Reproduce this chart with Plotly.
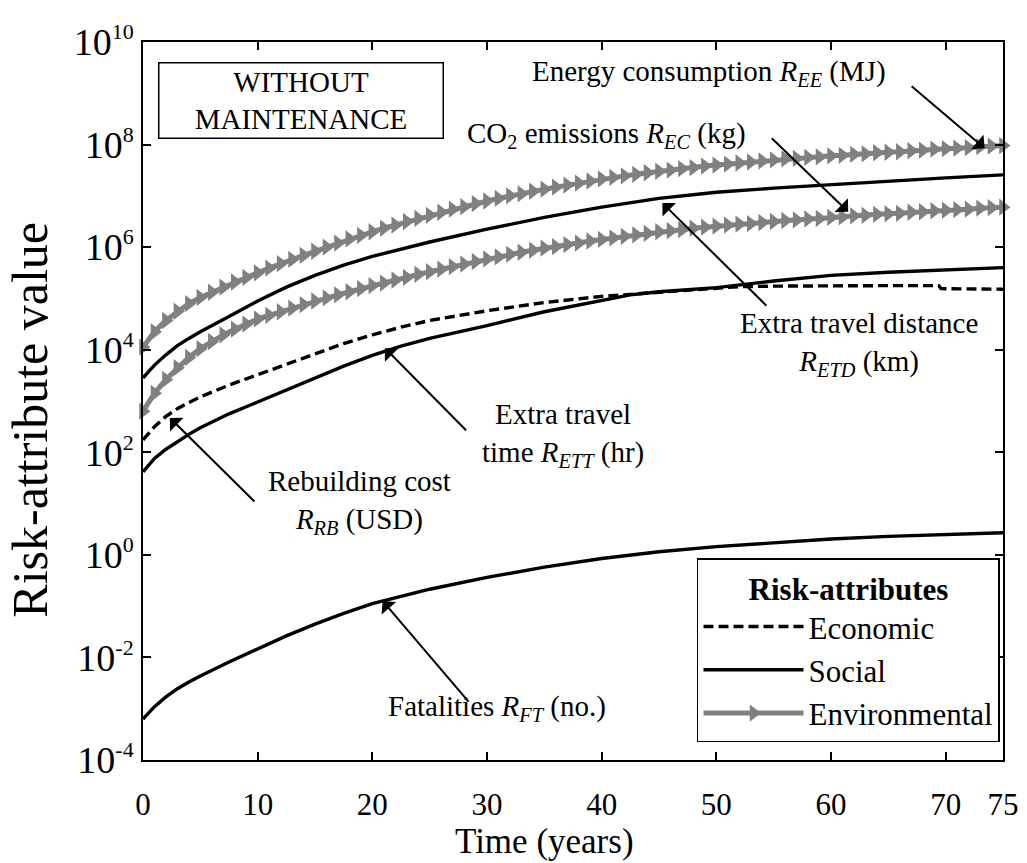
import numpy as np
import plotly.graph_objects as go

# ---------------- data (log10 of risk-attribute values) ----------------
YEARS = list(range(0, 76))

EE_LOG = [4.05, 4.35, 4.57, 4.75, 4.90, 5.02, 5.12, 5.22, 5.32, 5.41,
          5.50, 5.59, 5.68, 5.76, 5.84, 5.92, 6.00, 6.08, 6.16, 6.23,
          6.30, 6.37, 6.43, 6.50, 6.56, 6.62, 6.68, 6.74, 6.79, 6.85,
          6.90, 6.95, 7.00, 7.04, 7.09, 7.13, 7.17, 7.21, 7.25, 7.29,
          7.33, 7.36, 7.39, 7.42, 7.45, 7.48, 7.50, 7.53, 7.55, 7.58,
          7.60, 7.62, 7.64, 7.66, 7.68, 7.70, 7.72, 7.73, 7.75, 7.76,
          7.78, 7.79, 7.81, 7.82, 7.84, 7.85, 7.86, 7.88, 7.89, 7.91,
          7.92, 7.93, 7.94, 7.96, 7.97, 7.98]

EC_LOG = [2.80, 3.15, 3.42, 3.65, 3.85, 4.02, 4.16, 4.29, 4.40, 4.50,
          4.60, 4.67, 4.74, 4.81, 4.88, 4.95, 5.01, 5.07, 5.13, 5.19,
          5.25, 5.30, 5.36, 5.41, 5.47, 5.52, 5.57, 5.62, 5.67, 5.72,
          5.77, 5.81, 5.86, 5.90, 5.94, 5.98, 6.01, 6.05, 6.08, 6.12,
          6.15, 6.18, 6.21, 6.24, 6.27, 6.30, 6.32, 6.34, 6.37, 6.39,
          6.41, 6.43, 6.45, 6.46, 6.48, 6.50, 6.52, 6.53, 6.55, 6.56,
          6.58, 6.59, 6.61, 6.62, 6.64, 6.65, 6.66, 6.68, 6.69, 6.71,
          6.72, 6.73, 6.74, 6.76, 6.77, 6.78]

T_ETD = [0, 1, 2, 3, 4, 5, 7.5, 10, 12.5, 15, 17.5, 20, 25, 30, 35, 40, 45, 50, 55, 60, 65, 70, 75]
ETD_LOG = [3.45, 3.70, 3.90, 4.08, 4.22, 4.35, 4.65, 4.95, 5.22, 5.45, 5.65, 5.82,
           6.10, 6.35, 6.58, 6.78, 6.95, 7.07, 7.15, 7.22, 7.29, 7.35, 7.41]

T_RB = [0, 1, 2, 3, 4, 5, 7.5, 10, 12.5, 15, 17.5, 20, 22.5, 25, 30, 35, 40, 45, 50,
        52, 55, 60, 65, 69.4, 69.6, 75]
RB_LOG = [2.24, 2.50, 2.70, 2.85, 2.97, 3.08, 3.31, 3.51, 3.71, 3.92, 4.12, 4.29, 4.44,
          4.57, 4.76, 4.92, 5.04, 5.12, 5.20, 5.23, 5.24, 5.25, 5.25, 5.25, 5.19, 5.18]

T_ETT = [0, 1, 2, 3, 4, 5, 7.5, 10, 12.5, 15, 17.5, 20, 22.5, 25, 30, 35, 40, 42.5, 45,
         50, 55, 60, 65, 70, 75]
ETT_LOG = [1.62, 1.88, 2.06, 2.21, 2.35, 2.48, 2.75, 2.98, 3.21, 3.45, 3.68, 3.89, 4.07,
           4.22, 4.47, 4.74, 4.97, 5.07, 5.13, 5.21, 5.34, 5.45, 5.51, 5.56, 5.60]

T_FT = [0, 1, 2, 3, 4, 5, 7.5, 10, 12.5, 15, 17.5, 20, 25, 30, 35, 40, 45, 50, 55, 60, 65, 70, 75]
FT_LOG = [-3.20, -2.96, -2.77, -2.61, -2.48, -2.36, -2.09, -1.83, -1.58, -1.35, -1.14, -0.95,
          -0.67, -0.44, -0.24, -0.07, 0.06, 0.16, 0.24, 0.31, 0.36, 0.40, 0.43]

X_TICKS = [0, 10, 20, 30, 40, 50, 60, 70, 75]
Y_TICK_EXP = [-4, -2, 0, 2, 4, 6, 8, 10]

# ---------------- figure ----------------
FONT = "Liberation Serif, Times New Roman, serif"
GRAY = "#808080"

fig = go.Figure()

def v(logs):
    return [10 ** e for e in logs]

# Economic
fig.add_trace(go.Scatter(x=T_RB, y=v(RB_LOG), mode="lines", name="Economic",
                         line=dict(color="black", width=3.4, dash="10px,5px"),
                         legendgroup="eco", showlegend=True))
# Social
fig.add_trace(go.Scatter(x=T_ETT, y=v(ETT_LOG), mode="lines", name="Social",
                         line=dict(color="black", width=3.4),
                         legendgroup="soc", showlegend=True))
fig.add_trace(go.Scatter(x=T_ETD, y=v(ETD_LOG), mode="lines", name="Social",
                         line=dict(color="black", width=3.4),
                         legendgroup="soc", showlegend=False))
fig.add_trace(go.Scatter(x=T_FT, y=v(FT_LOG), mode="lines", name="Social",
                         line=dict(color="black", width=3.4),
                         legendgroup="soc", showlegend=False))
# Environmental
fig.add_trace(go.Scatter(x=YEARS, y=v(EE_LOG), mode="lines+markers", name="Environmental",
                         line=dict(color=GRAY, width=5),
                         marker=dict(symbol="triangle-right", size=15, color=GRAY),
                         legendgroup="env", showlegend=True, cliponaxis=False))
fig.add_trace(go.Scatter(x=YEARS, y=v(EC_LOG), mode="lines+markers", name="Environmental",
                         line=dict(color=GRAY, width=5),
                         marker=dict(symbol="triangle-right", size=15, color=GRAY),
                         legendgroup="env", showlegend=False, cliponaxis=False))

ytext = ["10<sup><span style='font-size:22px'>%d</span></sup>" % e for e in Y_TICK_EXP]

fig.update_layout(
    width=1027, height=863,
    margin=dict(l=143, r=24, t=42, b=103),
    paper_bgcolor="white", plot_bgcolor="white",
    font=dict(family=FONT, color="black", size=28),
    xaxis=dict(range=[0, 75], tickvals=X_TICKS, ticktext=[str(t) for t in X_TICKS],
               ticks="inside", ticklen=8, tickwidth=1.5, tickcolor="black",
               showline=True, linecolor="black", linewidth=1.5, mirror="ticks",
               showgrid=False, zeroline=False, tickfont=dict(size=31),
               ticklabelstandoff=16, automargin=False),
    yaxis=dict(type="log", range=[-4, 10], tickvals=[10 ** e for e in Y_TICK_EXP],
               ticktext=ytext, ticks="inside", ticklen=8, tickwidth=1.5, tickcolor="black",
               showline=True, linecolor="black", linewidth=1.5, mirror="ticks",
               showgrid=False, zeroline=False, tickfont=dict(size=38),
               automargin=False),
    legend=dict(x=0.9965, y=0.025, xanchor="right", yanchor="bottom",
                bgcolor="white", bordercolor="black", borderwidth=1.5,
                font=dict(size=31), itemwidth=100,
                title=dict(text="<b>Risk-attributes</b>", side="top center",
                           font=dict(size=31)),
                traceorder="normal"),
)

ann = []
# axis titles
ann.append(dict(text="Time (years)", x=0.467, y=0.0, xref="paper", yref="paper",
                yshift=-81, showarrow=False, font=dict(size=35), xanchor="center", yanchor="middle"))
ann.append(dict(text="Risk-attribute value", x=0, y=0.474, xref="paper", yref="paper",
                xshift=-113, showarrow=False, font=dict(size=50), textangle=-90,
                xanchor="center", yanchor="middle"))
# box label
ann.append(dict(text="WITHOUT<br>MAINTENANCE", x=0.1843, y=0.919, xref="paper", yref="paper",
                xanchor="center", yanchor="middle", align="center",
                showarrow=False, font=dict(size=29), bordercolor="black", borderwidth=1.5,
                borderpad=0, width=283, height=74, bgcolor="white"))

# text labels (data coords: x years, y log10)
labels = [
    ("Energy consumption <i>R</i><sub><i>EE</i></sub> (MJ)", 49.4, 9.40),
    ("CO<sub>2</sub> emissions <i>R</i><sub><i>EC</i></sub> (kg)", 40.4, 8.19),
    ("Extra travel distance<br><i>R</i><sub><i>ETD</i></sub> (km)", 62.4, 4.11),
    ("Extra travel<br>time <i>R</i><sub><i>ETT</i></sub> (hr)", 36.6, 2.34),
    ("Rebuilding cost<br><i>R</i><sub><i>RB</i></sub> (USD)", 18.9, 1.03),
    ("Fatalities <i>R</i><sub><i>FT</i></sub> (no.)", 30.9, -2.98),
]
for t, x, y in labels:
    ann.append(dict(text=t, x=x, y=y, xref="x", yref="y", showarrow=False,
                    font=dict(size=29), xanchor="center", yanchor="middle"))

# arrows: (head x, head y, tail x, tail y)
arrows = [
    (73.4, 7.93, 66.9, 9.16),
    (61.5, 6.69, 54.7, 8.15),
    (45.3, 6.86, 54.5, 4.83),
    (21.1, 4.03, 28.3, 2.40),
    (2.35, 2.67, 9.85, 1.01),
    (20.9, -0.90, 28.5, -2.89),
]
for hx, hy, tx, ty in arrows:
    ann.append(dict(text="", x=hx, y=hy, ax=tx, ay=ty, xref="x", yref="y",
                    axref="x", ayref="y", showarrow=True, arrowhead=1,
                    arrowsize=1.6, arrowwidth=2, arrowcolor="black", standoff=0))

fig.update_layout(annotations=ann)

fig.write_html("out.html")
